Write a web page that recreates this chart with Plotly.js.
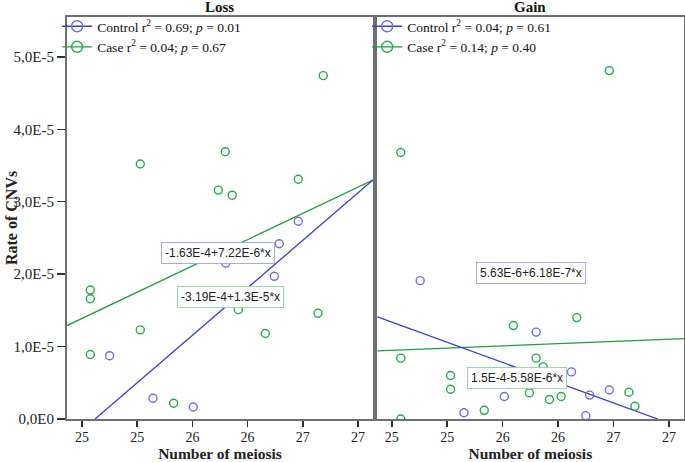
<!DOCTYPE html>
<html>
<head>
<meta charset="utf-8">
<script src="https://cdn.plot.ly/plotly-3.0.1.min.js"></script>
<style>
  html, body { margin: 0; padding: 0; background: #fff; }
  #plot { width: 685px; height: 462px; }
</style>
</head>
<body>
<div id="plot"></div>
<script>
// values (rate of CNVs vs number of meiosis)
const lossCtrlX = [26.709, 26.537, 26.052, 26.492, 25.0, 25.393, 25.758];
const lossCtrlY = [2.73e-5, 2.42e-5, 2.15e-5, 1.97e-5, 0.874e-5, 0.286e-5, 0.166e-5];
const lossCaseX = [26.936, 26.048, 25.278, 25.985, 26.111, 26.709, 24.825, 24.825, 26.166, 26.888, 26.41, 25.278, 24.825, 25.58];
const lossCaseY = [4.74e-5, 3.69e-5, 3.52e-5, 3.16e-5, 3.09e-5, 3.31e-5, 1.78e-5, 1.66e-5, 1.51e-5, 1.46e-5, 1.18e-5, 1.23e-5, 0.89e-5, 0.217e-5];

const gainCtrlX = [25.006, 26.052, 26.371, 26.712, 26.534, 25.765, 25.401, 26.5];
const gainCtrlY = [1.91e-5, 1.20e-5, 0.65e-5, 0.40e-5, 0.33e-5, 0.31e-5, 0.087e-5, 0.046e-5];
const gainCaseX = [26.712, 24.831, 26.419, 25.847, 24.831, 26.052, 26.115, 25.28, 25.28, 26.889, 25.991, 26.278, 26.172, 26.943, 25.584, 24.831];
const gainCaseY = [4.81e-5, 3.68e-5, 1.40e-5, 1.29e-5, 0.84e-5, 0.84e-5, 0.72e-5, 0.60e-5, 0.41e-5, 0.37e-5, 0.36e-5, 0.31e-5, 0.27e-5, 0.175e-5, 0.12e-5, 0];

// fit lines (end points as drawn)
const lossCtrlFitX = [24.868, 27.386];
const lossCtrlFitY = [0, 3.30e-5];
const lossCaseFitX = [24.614, 27.386];
const lossCaseFitY = [1.29e-5, 3.30e-5];
const gainCtrlFitX = [24.62, 27.149];
const gainCtrlFitY = [1.41e-5, 0];
const gainCaseFitX = [24.62, 27.386];
const gainCaseFitY = [0.94e-5, 1.11e-5];

const lossLegend = ['Control r<sup>2</sup> = 0.69; <i>p</i> = 0.01', 'Case r<sup>2</sup> = 0.04; <i>p</i> = 0.67'];
const gainLegend = ['Control r<sup>2</sup> = 0.04; <i>p</i> = 0.61', 'Case r<sup>2</sup> = 0.14; <i>p</i> = 0.40'];

const lossEq = ['-1.63E-4+7.22E-6*x', '-3.19E-4+1.3E-5*x'];
const gainEq = ['5.63E-6+6.18E-7*x', '1.5E-4-5.58E-6*x'];

const xTickVals = [24.75, 25.25, 25.75, 26.25, 26.75, 27.25];
const xTickText = ['25', '25', '26', '26', '27', '27'];
const yTickVals = [0, 1e-5, 2e-5, 3e-5, 4e-5, 5e-5];
const yTickText = ['0,0E0', '1,0E-5', '2,0E-5', '3,0E-5', '4,0E-5', '5,0E-5'];

const ctrlMarker = '#6f6fe6';
const ctrlLine = '#3b3bd6';
const caseMarker = '#22ad4a';
const caseLine = '#1f9e3f';
const serif = 'Liberation Serif';
const sans = 'Liberation Sans';

function pts(x, y, color, xa, ya) {
    return {
        x: x, y: y, xaxis: xa, yaxis: ya, type: 'scatter', mode: 'markers',
        marker: { symbol: 'circle-open', size: 8, color: color, line: { width: 1.4, color: color } },
        showlegend: false, hoverinfo: 'x+y'
    };
}

function fit(x, y, color, xa, ya) {
    return {
        x: x, y: y, xaxis: xa, yaxis: ya, type: 'scatter', mode: 'lines',
        line: { color: color, width: 1.3 }, showlegend: false, hoverinfo: 'skip'
    };
}

// legend keys only, no data
function key(name, color, lineColor, legendId) {
    return {
        x: [null], y: [null], type: 'scatter', mode: 'lines+markers', name: name,
        legend: legendId,
        marker: { symbol: 'circle-open', size: 11, color: color, line: { width: 1.4, color: color } },
        line: { color: lineColor, width: 1.3 }
    };
}

const traces = [
    fit(lossCaseFitX, lossCaseFitY, caseLine, 'x', 'y'),
    fit(lossCtrlFitX, lossCtrlFitY, ctrlLine, 'x', 'y'),
    pts(lossCaseX, lossCaseY, caseMarker, 'x', 'y'),
    pts(lossCtrlX, lossCtrlY, ctrlMarker, 'x', 'y'),
    fit(gainCaseFitX, gainCaseFitY, caseLine, 'x2', 'y2'),
    fit(gainCtrlFitX, gainCtrlFitY, ctrlLine, 'x2', 'y2'),
    pts(gainCaseX, gainCaseY, caseMarker, 'x2', 'y2'),
    pts(gainCtrlX, gainCtrlY, ctrlMarker, 'x2', 'y2'),
    key(lossLegend[0], ctrlMarker, ctrlLine, 'legend'),
    key(lossLegend[1], caseMarker, caseLine, 'legend'),
    key(gainLegend[0], ctrlMarker, ctrlLine, 'legend2'),
    key(gainLegend[1], caseMarker, caseLine, 'legend2')
];

const frame = {
    showline: true, mirror: true, linecolor: '#707070', linewidth: 2,
    showgrid: false, zeroline: false
};

const xBase = Object.assign({}, frame, {
    range: [24.614, 27.386],
    tickmode: 'array', tickvals: xTickVals, ticktext: xTickText,
    ticks: 'outside', ticklen: 6, tickwidth: 1.5, tickcolor: '#333',
    ticklabelstandoff: -2,
    tickfont: { family: serif, size: 14, color: '#222' },
    title: { text: '<b>Number of meiosis</b>', font: { family: serif, size: 15.5, color: '#222' }, standoff: 9 }
});

const layout = {
    width: 685, height: 462,
    margin: { l: 67, r: 1, t: 17, b: 43 },
    paper_bgcolor: '#fff', plot_bgcolor: '#fff',
    xaxis: Object.assign({}, xBase, { domain: [0, 0.4959], anchor: 'y' }),
    xaxis2: Object.assign({}, xBase, { domain: [0.502, 1], anchor: 'y2' }),
    yaxis: Object.assign({}, frame, {
        range: [0, 5.55e-5], anchor: 'x',
        tickmode: 'array', tickvals: yTickVals, ticktext: yTickText,
        ticks: 'outside', ticklen: 8, tickwidth: 1.5, tickcolor: '#333',
        tickfont: { family: serif, size: 15, color: '#222' }
    }),
    yaxis2: Object.assign({}, frame, {
        matches: 'y', anchor: 'x2', showticklabels: false, ticks: ''
    }),
    legend: {
        x: -0.016, xanchor: 'left', y: 1.015, yanchor: 'top',
        bgcolor: 'rgba(0,0,0,0)', borderwidth: 0, itemwidth: 30,
        font: { family: serif, size: 13.5, color: '#111' }
    },
    legend2: {
        x: 0.4865, xanchor: 'left', y: 1.015, yanchor: 'top',
        bgcolor: 'rgba(0,0,0,0)', borderwidth: 0, itemwidth: 30,
        font: { family: serif, size: 13.5, color: '#111' }
    },
    annotations: [
        { text: '<b>Loss</b>', xref: 'x domain', x: 0.5, yref: 'paper', y: 1, yanchor: 'bottom',
          showarrow: false, font: { family: serif, size: 15, color: '#111' } },
        { text: '<b>Gain</b>', xref: 'x2 domain', x: 0.5, yref: 'paper', y: 1, yanchor: 'bottom',
          showarrow: false, font: { family: serif, size: 15, color: '#111' } },
        { text: '<b>Rate of CNVs</b>', xref: 'paper', x: -0.0907, xanchor: 'center', yref: 'paper', y: 0.5,
          yanchor: 'middle', textangle: -90,
          showarrow: false, font: { family: serif, size: 16, color: '#222' } },
        { text: lossEq[0], xref: 'x', yref: 'y', x: 25.986, y: 2.29e-5, showarrow: false,
          bgcolor: '#fff', bordercolor: '#a8a8ee', borderwidth: 1, borderpad: 3,
          font: { family: sans, size: 12, color: '#222' } },
        { text: lossEq[1], xref: 'x', yref: 'y', x: 26.095, y: 1.68e-5, showarrow: false,
          bgcolor: '#fff', bordercolor: '#9ad8ac', borderwidth: 1, borderpad: 3,
          font: { family: sans, size: 12, color: '#222' } },
        { text: gainEq[0], xref: 'x2', yref: 'y2', x: 26.005, y: 2.01e-5, showarrow: false,
          bgcolor: '#fff', bordercolor: '#a8a8ee', borderwidth: 1, borderpad: 3,
          font: { family: sans, size: 12, color: '#222' } },
        { text: gainEq[1], xref: 'x2', yref: 'y2', x: 25.883, y: 0.56e-5, showarrow: false,
          bgcolor: '#fff', bordercolor: '#9ad8ac', borderwidth: 1, borderpad: 3,
          font: { family: sans, size: 12, color: '#222' } }
    ]
};

Plotly.newPlot('plot', traces, layout, { displayModeBar: false, staticPlot: true });
</script>
</body>
</html>
